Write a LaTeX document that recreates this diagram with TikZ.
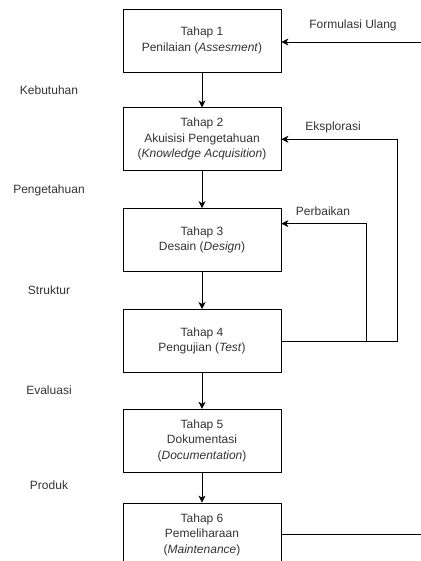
\documentclass[tikz,border=0pt]{standalone}
\usepackage{fontspec}
\setmainfont{Liberation Sans}
\usetikzlibrary{arrows.meta,positioning}

\begin{document}
\begin{tikzpicture}[x=1pt,y=-1pt,->,>={Stealth[length=7pt,width=7pt,inset=2pt]},line width=0.8pt,
	                    font=\fontsize{12}{15.5}\selectfont]
	  \tikzstyle{tahap}=[draw=black,rectangle,minimum width=158pt,minimum height=63pt,
	                     align=center,text=black!80]
	  \tikzstyle{ket}=[text=black!80,inner sep=0pt]

	  \useasboundingbox (0,0) rectangle (420,561);

	  \node[tahap] (T1) at (202,40.5) {Tahap 1\\Penilaian (\textit{Assesment})};
	  \node[tahap] (T2) [below=35pt of T1] {Tahap 2\\Akuisisi Pengetahuan\\(\textit{Knowledge Acquisition})};
	  \node[tahap] (T3) [below=37pt of T2] {Tahap 3\\Desain (\textit{Design})};
	  \node[tahap] (T4) [below=37pt of T3] {Tahap 4\\Pengujian (\textit{Test})};
	  \node[tahap] (T5) [below=36pt of T4] {Tahap 5\\Dokumentasi\\(\textit{Documentation})};
	  \node[tahap] (T6) [below=30pt of T5] {Tahap 6\\Pemeliharaan\\(\textit{Maintenance})};

	  % keluaran tiap tahap
	  \node[ket] (K1) at (49,90)  {Kebutuhan};
	  \node[ket] (K2) at (49,190) {Pengetahuan};
	  \node[ket] (K3) at (49,290) {Struktur};
	  \node[ket] (K4) at (49,390) {Evaluasi};
	  \node[ket] (K5) at (49,485) {Produk};

	  \path (T1) edge (T2)
	        (T2) edge (T3)
	        (T3) edge (T4)
	        (T4) edge (T5)
	        (T5) edge (T6);

	  % umpan balik
	  \draw (T4.east) -- ++(85,0) |- ([yshift=16.5pt]T3.east);
	  \draw (T4.east) -- ++(116,0) |- (T2.east);
	  \draw (T6.east) -- ++(141,0) |- ([yshift=-1.5pt]T1.east);

	  \node[ket] (L1) at (353,25)  {Formulasi Ulang};
	  \node[ket] (L2) at (333,127) {Eksplorasi};
	  \node[ket] (L3) at (323,211) {Perbaikan};
	\end{tikzpicture}
\end{document}
